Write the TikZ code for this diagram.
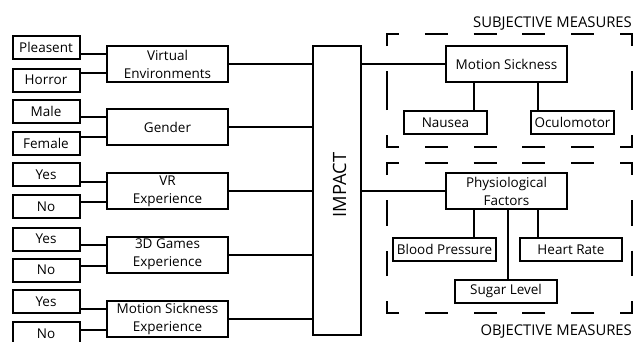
\documentclass[tikz,border=0pt]{standalone}
\usepackage{fontspec}
\setmainfont{Open Sans}
\begin{document}
\begin{tikzpicture}[x=1pt,y=-1pt,
  box/.style={draw, line width=2pt, inner sep=0pt, align=center, font=\fontsize{13.5}{18}\selectfont},
  opt/.style={box, minimum width=67pt, minimum height=23pt},
  cat/.style={box, minimum width=121pt, minimum height=36pt},
  meas/.style={box, minimum height=23pt},
  link/.style={line width=2pt},
  grouplabel/.style={inner sep=0pt, font=\fontsize{14.8}{18}\selectfont},
  subjdash/.style={line width=2.2pt, dash pattern=on 0pt off 12.9pt on 23pt off 25.8pt on 23pt off 25.8pt on 23pt off 25.8pt on 23pt off 25.8pt on 24pt off 25pt on 39pt off 25pt on 24pt off 25.8pt on 23pt off 25.8pt on 23pt off 25.8pt on 23pt off 25.8pt on 23pt off 25.8pt on 24pt off 25pt on 39pt off 25pt on 24pt off 12.9pt},
  objdash/.style={line width=2.2pt, dash pattern=on 0pt off 12.9pt on 23pt off 25.8pt on 23pt off 25.8pt on 23pt off 25.8pt on 23pt off 25.8pt on 24pt off 25pt on 25.5pt off 25pt on 25.5pt off 25pt on 24pt off 25.8pt on 23pt off 25.8pt on 23pt off 25.8pt on 23pt off 25.8pt on 23pt off 25.8pt on 24pt off 25pt on 25.5pt off 25pt on 25.5pt off 25pt on 24pt off 12.9pt}
]
\useasboundingbox (0,0) rectangle (633,341);

% option boxes
\node[opt] (p1) at (46,47) {Pleasent};
\node[opt] (p2) at (46,80) {Horror};
\node[opt] (g1) at (46,111) {Male};
\node[opt] (g2) at (46,143.5) {Female};
\node[opt] (v1) at (46,174.5) {Yes};
\node[opt] (v2) at (46,206.5) {No};
\node[opt] (d1) at (46,239) {Yes};
\node[opt] (d2) at (46,270) {No};
\node[opt] (m1) at (46,301.5) {Yes};
\node[opt] (m2) at (46,333.5) {No};

% category boxes
\node[cat] (ve) at (167.5,64) {Virtual\\Environments};
\node[cat] (gen) at (167.5,127) {Gender};
\node[cat] (vr) at (167.5,191) {VR\\Experience};
\node[cat] (dg) at (167.5,254.5) {3D Games\\Experience};
\node[cat] (mse) at (167.5,318.5) {Motion Sickness\\Experience};

% impact
\node[draw, line width=2pt, minimum width=48pt, minimum height=289pt, inner sep=0pt] (impact) at (337,190.5) {};
\node[rotate=90, inner sep=0pt, font=\fontsize{18.3}{22}\selectfont] (impactlabel) at (339.5,185) {IMPACT};

% measures
\node[cat] (ms) at (506.5,64) {Motion Sickness};
\node[meas, minimum width=83pt] (nau) at (445.5,122.5) {Nausea};
\node[meas, minimum width=83pt] (ocu) at (572.5,122.5) {Oculomotor};
\node[cat] (pf) at (506.5,191) {Physiological\\Factors};
\node[meas, minimum width=103pt] (bp) at (444.5,249.5) {Blood Pressure};
\node[meas, minimum width=102pt] (hr) at (571,249.5) {Heart Rate};
\node[meas, minimum width=102pt] (sl) at (506,291) {Sugar Level};

% option -> category connectors
\foreach \o/\c/\s in {p1/ve/10, p2/ve/-9, g1/gen/10, g2/gen/-10, v1/vr/9, v2/vr/-11, d1/dg/9.5, d2/dg/-11.5, m1/mse/9.5, m2/mse/-11.5}{
  \path ([yshift=\s pt]\c.west) coordinate (tmp);
  \draw[link] (tmp -| \o.east) -- (tmp);
}

% category -> impact
\foreach \c in {ve,gen,vr,dg,mse}{
  \draw[link] (\c.east) -- (\c.east -| impact.west);
}

% impact -> measures
\draw[link] (ms.west -| impact.east) -- (ms.west);
\draw[link] (pf.west -| impact.east) -- (pf.west);

% measure children
\path ([xshift=-32.5pt]ms.south) coordinate (msa);
\path ([xshift=31.5pt]ms.south) coordinate (msb);
\draw[link] (msa) -- (msa |- nau.north);
\draw[link] (msb) -- (msb |- ocu.north);
\path ([xshift=-32.5pt]pf.south) coordinate (pfa);
\path ([xshift=1.5pt]pf.south) coordinate (pfb);
\path ([xshift=31.5pt]pf.south) coordinate (pfc);
\draw[link] (pfa) -- (pfa |- bp.north);
\draw[link] (pfb) -- (pfb |- sl.north);
\draw[link] (pfc) -- (pfc |- hr.north);

% dashed groups
\coordinate (s1) at (411.9,34);
\draw[subjdash] (s1) -- (632,34) -- (632,147) -- (387,147) -- (387,34) -- (s1);
\coordinate (o1) at (411.9,163);
\draw[objdash] (o1) -- (632,163) -- (632,313) -- (387,313) -- (387,163) -- (o1);

\node[grouplabel, anchor=base east] (subjlabel) at (632,27) {SUBJECTIVE MEASURES};
\node[grouplabel, anchor=base east] (objlabel) at (632,335) {OBJECTIVE MEASURES};
\end{tikzpicture}
\end{document}
